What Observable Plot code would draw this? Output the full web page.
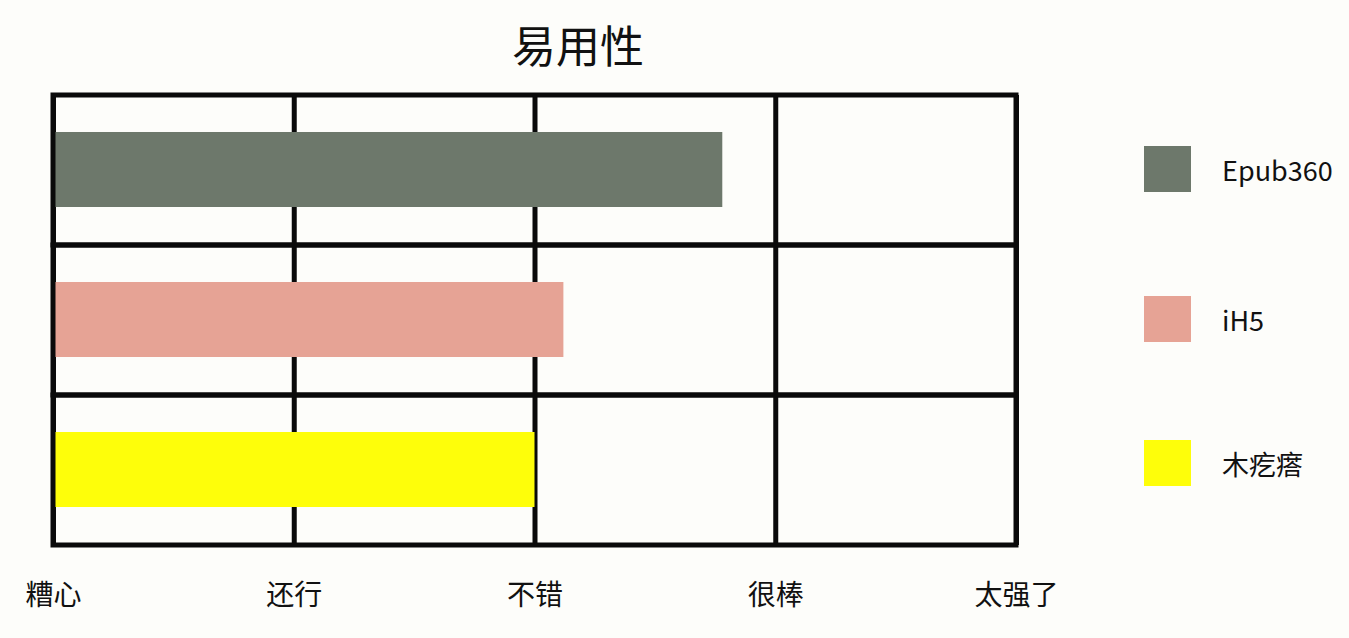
<!DOCTYPE html>
<html>
<head>
<meta charset="utf-8">
<script src="https://cdn.jsdelivr.net/npm/d3@7"></script>
<script src="https://cdn.jsdelivr.net/npm/@observablehq/plot@0.6"></script>
<style>
  html, body { margin: 0; padding: 0; background: #fdfdfa; }
  #wrap { position: relative; width: 1349px; height: 638px; overflow: hidden; font-family: "Noto Sans CJK SC", "Noto Sans", sans-serif; }
  #title { position: absolute; left: 0; top: 14px; width: 1156px; text-align: center; font-size: 44px; line-height: 60px; color: #111; }
  #chart { position: absolute; left: 0; top: 90px; }
  #legend { position: absolute; left: 1144px; top: 0; }
  .item { position: absolute; left: 0; display: flex; align-items: center; white-space: nowrap; }
  .sw { width: 47px; height: 46px; }
  .lb { margin-left: 31px; font-size: 27px; color: #111; }
</style>
</head>
<body>
<div id="wrap">
  <div id="title">易用性</div>
  <div id="chart"></div>
  <div id="legend"></div>
</div>
<script>
const titleText = "易用性";
const products = ["Epub360", "iH5", "木疙瘩"];
const scores = [2.78, 2.12, 2.0];
const colors = ["#6d786b", "#e6a395", "#fefe0a"];
const tickValues = [0, 1, 2, 3, 4];
const tickLabels = ["糟心", "还行", "不错", "很棒", "太强了"];

const data = products.map((p, i) => ({product: p, score: scores[i]}));

const lineColor = "#0a0a0a";
const lw = 5;

const plot = Plot.plot({
  width: 1100,
  height: 525,
  marginTop: 5,
  marginBottom: 70,
  marginLeft: 53,
  marginRight: 84,
  style: {background: "transparent", fontFamily: "'Noto Sans CJK SC', sans-serif", fontSize: "28px", overflow: "visible"},
  x: {domain: [0, 4], label: null},
  y: {domain: products, padding: 0, axis: null, label: null},
  color: {domain: products, range: colors},
  marks: [
    Plot.ruleX(tickValues, {stroke: lineColor, strokeWidth: lw}),
    Plot.barX(data, {x1: 0, x2: "score", y: "product", fill: "product", insetTop: 37, insetBottom: 38}),
    Plot.barX(products, {x1: 0, x2: 4, y: d => d, fill: "none", stroke: lineColor, strokeWidth: lw}),
    Plot.axisX({ticks: tickValues, tickSize: 0, tickPadding: 40, tickFormat: d => tickLabels[d], fontSize: 28, fill: "#111", label: null})
  ]
});
document.getElementById("chart").appendChild(plot);
document.getElementById("title").textContent = titleText;

const legendTops = [146, 296, 440];
const legend = document.getElementById("legend");
products.forEach((p, i) => {
  const item = document.createElement("div");
  item.className = "item";
  item.style.top = legendTops[i] + "px";
  const sw = document.createElement("div");
  sw.className = "sw";
  sw.style.background = colors[i];
  const lb = document.createElement("span");
  lb.className = "lb";
  lb.textContent = p;
  item.appendChild(sw);
  item.appendChild(lb);
  legend.appendChild(item);
});
</script>
</body>
</html>
